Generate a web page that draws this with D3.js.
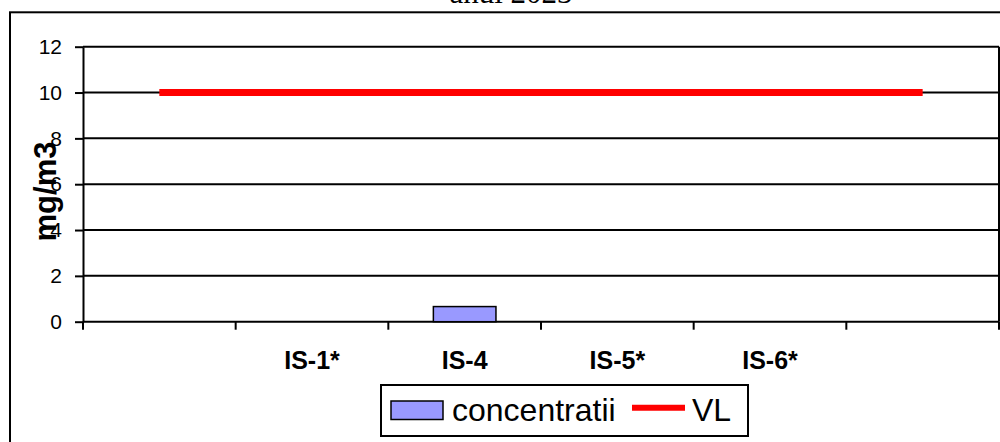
<!DOCTYPE html>
<html>
<head>
<meta charset="utf-8">
<script src="https://cdn.jsdelivr.net/npm/d3@7"></script>
<style>
  html, body { margin: 0; padding: 0; background: #fff; overflow: hidden; }
  #chart { width: 1000px; height: 442px; }
</style>
</head>
<body>
<div id="chart"></div>
<script>
// ---------- DATA ----------
const categories = ["", "IS-1*", "IS-4", "IS-5*", "IS-6*", ""];
const concentratii = [null, null, 0.66, null, null, null];
const vl = [10, 10, 10, 10, 10, 10];
const yTicks = [0, 2, 4, 6, 8, 10, 12];

// ---------- DRAW ----------
const W = 1000, H = 442;
const plotL = 83, plotR = 999, plotT = 46.7, plotB = 321.7;

const svg = d3.select("#chart")
  .append("svg")
  .attr("width", W)
  .attr("height", H);

// khung ngoai
svg.append("rect")
  .attr("x", 10)
  .attr("y", 12.3)
  .attr("width", W + 20)
  .attr("height", H + 20)
  .attr("fill", "none")
  .attr("stroke", "#000")
  .attr("stroke-width", 2);

// tieu de (bi cat o tren)
svg.append("text")
  .attr("x", 511)
  .attr("y", 3)
  .attr("text-anchor", "middle")
  .style("font-family", "'Liberation Serif', 'Times New Roman', serif")
  .style("font-size", "31px")
  .text("anul 2023");

const idx = categories.map((d, i) => i);

const x = d3.scaleBand()
  .domain(idx)
  .range([plotL, plotR])
  .paddingInner(0)
  .paddingOuter(0);

const y = d3.scaleLinear()
  .domain([0, 12])
  .range([plotB, plotT]);

// ---------- GRID ----------
svg.append("g")
  .selectAll("line")
  .data(yTicks.filter(d => d > 0))
  .enter()
  .append("line")
  .attr("x1", plotL)
  .attr("x2", plotR)
  .attr("y1", d => y(d))
  .attr("y2", d => y(d))
  .attr("stroke", "#000")
  .attr("stroke-width", 2);

// vien phai
svg.append("line")
  .attr("x1", plotR)
  .attr("x2", plotR)
  .attr("y1", plotT)
  .attr("y2", plotB)
  .attr("stroke", "#000")
  .attr("stroke-width", 2);

// ---------- Y AXIS ----------
const yAxis = svg.append("g")
  .attr("transform", `translate(${plotL},0)`)
  .call(d3.axisLeft(y).tickValues(yTicks).tickSize(8).tickPadding(13).tickSizeOuter(0));

yAxis.select(".domain").attr("stroke-width", 2);
yAxis.selectAll(".tick line").attr("stroke-width", 2);
yAxis.selectAll(".tick text")
  .style("font-family", "'Liberation Sans', Arial, sans-serif")
  .style("font-size", "21px")
  .attr("fill", "#000");

// ---------- X AXIS ----------
const xAxis = svg.append("g")
  .attr("transform", `translate(0,${plotB})`);

xAxis.append("line")
  .attr("x1", plotL)
  .attr("x2", plotR)
  .attr("stroke", "#000")
  .attr("stroke-width", 2);

const bounds = idx.map(i => x(i)).concat([x(idx[idx.length - 1]) + x.bandwidth()]);
xAxis.selectAll(".xtick")
  .data(bounds)
  .enter()
  .append("line")
  .attr("class", "xtick")
  .attr("x1", d => d)
  .attr("x2", d => d)
  .attr("y1", 0)
  .attr("y2", 8)
  .attr("stroke", "#000")
  .attr("stroke-width", 2);

xAxis.selectAll(".xlabel")
  .data(idx)
  .enter()
  .append("text")
  .attr("class", "xlabel")
  .attr("x", i => x(i) + x.bandwidth() / 2)
  .attr("y", 47.6)
  .attr("text-anchor", "middle")
  .style("font-family", "'Liberation Sans', Arial, sans-serif")
  .style("font-size", "25px")
  .style("font-weight", "bold")
  .text(i => categories[i]);

// y title
svg.append("text")
  .attr("transform", "translate(56,191.5) rotate(-90)")
  .attr("text-anchor", "middle")
  .style("font-family", "'Liberation Sans', Arial, sans-serif")
  .style("font-size", "31px")
  .style("font-weight", "bold")
  .text("mg/m3");

// ---------- BARS ----------
const barW = x.bandwidth() * 0.41;
svg.append("g")
  .selectAll("rect")
  .data(idx.filter(i => concentratii[i] != null))
  .enter()
  .append("rect")
  .attr("x", i => x(i) + (x.bandwidth() - barW) / 2)
  .attr("y", i => y(concentratii[i]))
  .attr("width", barW)
  .attr("height", i => y(0) - y(concentratii[i]))
  .attr("fill", "#9999ff")
  .attr("stroke", "#000")
  .attr("stroke-width", 1.5);

// ---------- VL LINE ----------
const line = d3.line()
  .x(i => x(i) + x.bandwidth() / 2)
  .y(i => y(vl[i]));

svg.append("path")
  .datum(idx)
  .attr("d", line)
  .attr("fill", "none")
  .attr("stroke", "#ff0000")
  .attr("stroke-width", 7);

// ---------- LEGEND ----------
const lg = svg.append("g");

lg.append("rect")
  .attr("x", 381)
  .attr("y", 385)
  .attr("width", 367)
  .attr("height", 51)
  .attr("fill", "#fff")
  .attr("stroke", "#000")
  .attr("stroke-width", 2);

lg.append("rect")
  .attr("x", 391)
  .attr("y", 401)
  .attr("width", 52)
  .attr("height", 18.5)
  .attr("fill", "#9999ff")
  .attr("stroke", "#000")
  .attr("stroke-width", 1.5);

lg.append("text")
  .attr("x", 452)
  .attr("y", 421)
  .style("font-family", "'Liberation Sans', Arial, sans-serif")
  .style("font-size", "32px")
  .text("concentratii");

lg.append("line")
  .attr("x1", 632)
  .attr("x2", 685)
  .attr("y1", 407.7)
  .attr("y2", 407.7)
  .attr("stroke", "#ff0000")
  .attr("stroke-width", 6);

lg.append("text")
  .attr("x", 692)
  .attr("y", 421)
  .style("font-family", "'Liberation Sans', Arial, sans-serif")
  .style("font-size", "32px")
  .text("VL");
</script>
</body>
</html>
